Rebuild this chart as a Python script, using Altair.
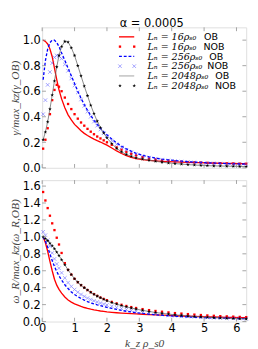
import altair as alt
import pandas as pd

# ---------------- data ----------------
kz = [0.03, 0.1, 0.17, 0.24, 0.31, 0.38, 0.45, 0.52,
      0.6, 0.7, 0.8, 0.9, 1.0, 1.1, 1.2, 1.3, 1.4, 1.5, 1.6, 1.7, 1.8, 1.9, 2.0,
      2.15, 2.3, 2.45, 2.6, 2.75, 2.9,
      3.1, 3.3, 3.5, 3.7, 3.9, 4.1, 4.3, 4.5, 4.7, 4.9, 5.1, 5.3, 5.5, 5.7, 5.9, 6.1, 6.3]

# growth rate (top panel)
gam_16_ob = [1.0, 0.99, 0.97, 0.93, 0.87, 0.78, 0.69, 0.61,
             0.54, 0.47, 0.415, 0.375, 0.34, 0.315, 0.29, 0.27, 0.253, 0.238, 0.225, 0.213, 0.202, 0.19, 0.178,
             0.155, 0.132, 0.112, 0.095, 0.082, 0.072,
             0.064, 0.058, 0.054, 0.051, 0.049, 0.047, 0.045, 0.043, 0.041, 0.04, 0.038, 0.037, 0.036, 0.035, 0.034, 0.033, 0.032]
gam_16_nob = [0.15, 0.22, 0.31, 0.42, 0.53, 0.61, 0.65, 0.635,
              0.6, 0.55, 0.5, 0.46, 0.42, 0.385, 0.355, 0.33, 0.305, 0.283, 0.263, 0.245, 0.23, 0.215, 0.2,
              0.18, 0.16, 0.142, 0.125, 0.11, 0.097,
              0.083, 0.073, 0.065, 0.059, 0.055, 0.051, 0.048, 0.045, 0.043, 0.041, 0.039, 0.037, 0.036, 0.035, 0.034, 0.033, 0.032]
gam_256_ob = [0.69, 0.84, 0.93, 0.98, 1.0, 1.0, 0.98, 0.95,
              0.9, 0.84, 0.78, 0.72, 0.66, 0.6, 0.545, 0.495, 0.45, 0.41, 0.372, 0.34, 0.31, 0.283, 0.258,
              0.225, 0.195, 0.17, 0.148, 0.13, 0.114,
              0.098, 0.086, 0.076, 0.068, 0.062, 0.057, 0.052, 0.048, 0.045, 0.042, 0.039, 0.037, 0.035, 0.033, 0.031, 0.03, 0.029]
gam_256_nob = [0.42, 0.53, 0.65, 0.75, 0.82, 0.865, 0.88, 0.875,
               0.855, 0.81, 0.76, 0.7, 0.645, 0.59, 0.535, 0.485, 0.44, 0.4, 0.362, 0.33, 0.3, 0.272, 0.247,
               0.213, 0.184, 0.16, 0.14, 0.122, 0.107,
               0.092, 0.08, 0.071, 0.064, 0.058, 0.053, 0.049, 0.045, 0.042, 0.039, 0.037, 0.035, 0.033, 0.031, 0.03, 0.029, 0.028]
gam_2048_ob = [0.22, 0.28, 0.36, 0.46, 0.57, 0.68, 0.79, 0.88,
               0.95, 0.99, 0.985, 0.94, 0.88, 0.8, 0.72, 0.64, 0.565, 0.49, 0.425, 0.365, 0.315, 0.272, 0.235,
               0.19, 0.152, 0.125, 0.105, 0.09, 0.078,
               0.068, 0.059, 0.051, 0.044, 0.038, 0.033, 0.029, 0.025, 0.022, 0.019, 0.017, 0.015, 0.014, 0.013, 0.012, 0.011, 0.01]
gam_2048_nob = [0.22, 0.28, 0.36, 0.46, 0.57, 0.68, 0.79, 0.88,
                0.95, 0.99, 0.985, 0.94, 0.88, 0.8, 0.72, 0.64, 0.565, 0.49, 0.425, 0.365, 0.315, 0.272, 0.235,
                0.19, 0.152, 0.125, 0.105, 0.09, 0.078,
                0.068, 0.059, 0.051, 0.044, 0.038, 0.033, 0.029, 0.025, 0.022, 0.019, 0.017, 0.015, 0.014, 0.013, 0.012, 0.011, 0.01]

# real frequency (bottom panel)
om_16_ob = [1.0, 0.93, 0.83, 0.71, 0.6, 0.5, 0.43, 0.38,
            0.335, 0.29, 0.255, 0.23, 0.21, 0.195, 0.18, 0.166, 0.155, 0.146, 0.138, 0.131, 0.125, 0.12, 0.115,
            0.109, 0.104, 0.1, 0.096, 0.093, 0.09,
            0.086, 0.082, 0.078, 0.075, 0.072, 0.069, 0.066, 0.063, 0.061, 0.058, 0.056, 0.054, 0.052, 0.05, 0.049, 0.047, 0.046]
om_16_nob = [1.53, 1.43, 1.34, 1.25, 1.16, 1.08, 0.99, 0.91,
             0.81, 0.69, 0.61, 0.555, 0.505, 0.465, 0.43, 0.4, 0.372, 0.347, 0.324, 0.303, 0.284, 0.267, 0.252,
             0.232, 0.214, 0.198, 0.184, 0.171, 0.16,
             0.147, 0.135, 0.125, 0.116, 0.108, 0.1, 0.094, 0.088, 0.082, 0.077, 0.072, 0.068, 0.064, 0.061, 0.058, 0.055, 0.052]
om_256_ob = [1.0, 0.95, 0.88, 0.8, 0.72, 0.65, 0.59, 0.54,
             0.49, 0.435, 0.39, 0.35, 0.32, 0.295, 0.272, 0.253, 0.236, 0.221, 0.208, 0.197, 0.187, 0.177, 0.168,
             0.155, 0.143, 0.132, 0.122, 0.113, 0.105,
             0.096, 0.088, 0.081, 0.074, 0.068, 0.063, 0.059, 0.055, 0.051, 0.048, 0.045, 0.043, 0.041, 0.039, 0.037, 0.035, 0.034]
om_256_nob = [1.06, 1.02, 0.96, 0.89, 0.81, 0.74, 0.68, 0.63,
              0.575, 0.515, 0.46, 0.415, 0.378, 0.347, 0.32, 0.297, 0.277, 0.26, 0.245, 0.231, 0.218, 0.206, 0.195,
              0.18, 0.166, 0.153, 0.141, 0.131, 0.121,
              0.109, 0.099, 0.09, 0.082, 0.075, 0.069, 0.064, 0.059, 0.055, 0.051, 0.048, 0.045, 0.042, 0.04, 0.038, 0.036, 0.034]
om_2048_ob = [1.0, 0.98, 0.955, 0.925, 0.895, 0.86, 0.82, 0.78,
              0.73, 0.67, 0.61, 0.555, 0.505, 0.465, 0.43, 0.4, 0.372, 0.346, 0.322, 0.3, 0.281, 0.263, 0.246,
              0.225, 0.206, 0.189, 0.174, 0.16, 0.147,
              0.132, 0.119, 0.107, 0.097, 0.088, 0.08, 0.072, 0.066, 0.06, 0.055, 0.05, 0.046, 0.042, 0.039, 0.036, 0.033, 0.031]
om_2048_nob = [1.0, 0.98, 0.955, 0.925, 0.895, 0.86, 0.82, 0.78,
               0.73, 0.67, 0.61, 0.555, 0.505, 0.465, 0.43, 0.4, 0.372, 0.346, 0.322, 0.3, 0.281, 0.263, 0.246,
               0.225, 0.206, 0.189, 0.174, 0.16, 0.147,
               0.132, 0.119, 0.107, 0.097, 0.088, 0.08, 0.072, 0.066, 0.06, 0.055, 0.05, 0.046, 0.042, 0.039, 0.036, 0.033, 0.031]

x_ticks = [0, 1, 2, 3, 4, 5, 6]
y_ticks_top = [0.0, 0.2, 0.4, 0.6, 0.8, 1.0]
y_ticks_bot = [0.0, 0.2, 0.4, 0.6, 0.8, 1.0, 1.2, 1.4, 1.6]

legend_math = ["Lₙ = 16ρₛ₀", "Lₙ = 16ρₛ₀", "Lₙ = 256ρₛ₀", "Lₙ = 256ρₛ₀", "Lₙ = 2048ρₛ₀", "Lₙ = 2048ρₛ₀"]
legend_tag = ["OB", "NOB", "OB", "NOB", "OB", "NOB"]

top_df = pd.DataFrame({"kz": kz, "r_ob": gam_16_ob, "r_nob": gam_16_nob,
                       "b_ob": gam_256_ob, "b_nob": gam_256_nob,
                       "k_ob": gam_2048_ob, "k_nob": gam_2048_nob})
bot_df = pd.DataFrame({"kz": kz, "r_ob": om_16_ob, "r_nob": om_16_nob,
                       "b_ob": om_256_ob, "b_nob": om_256_nob,
                       "k_ob": om_2048_ob, "k_nob": om_2048_nob})

# ---------------- styling ----------------
W = 215
H_TOP = 148
H_BOT = 149
FRAME = "#8a8a8a"
STAR = ("M0,-1L0.225,-0.309L0.951,-0.309L0.363,0.118L0.588,0.809L0,0.382"
        "L-0.588,0.809L-0.363,0.118L-0.951,-0.309L-0.225,-0.309Z")
XMARK = "M-1,-1L1,1M-1,1L1,-1"
XSC = alt.Scale(domain=[0, 6.3], nice=False, zero=False)


def panel(df, ydom, yticks, ytitle, xaxis, height, with_legend=False):
    ysc = alt.Scale(domain=ydom, nice=False, zero=False)
    yax = alt.Axis(values=yticks, format=".1f", ticks=False, domain=False, grid=False,
                   labelFont="DejaVu Sans", labelFontSize=12, labelColor="black",
                   labelPadding=2, labelOverlap=False,
                   title=ytitle, titleFont="Liberation Serif", titleFontStyle="italic",
                   titleFontWeight="normal", titleFontSize=12, titleColor="#444444",
                   titlePadding=1)
    X = lambda f: alt.X(f, scale=XSC, axis=xaxis)
    Y = lambda f: alt.Y(f, scale=ysc, axis=yax)
    base = alt.Chart(df)
    layers = [
        base.mark_line(color="#ff0000", strokeWidth=1.4).encode(x=X("kz:Q"), y=Y("r_ob:Q")),
        base.mark_square(color="#ff0000", size=6, opacity=1).encode(x=X("kz:Q"), y=Y("r_nob:Q")),
        base.mark_line(color="#0000ff", strokeWidth=1.4, strokeDash=[3, 2]).encode(x=X("kz:Q"), y=Y("b_ob:Q")),
        base.mark_point(shape=XMARK, color="#3a3aff", size=14, strokeWidth=0.8, opacity=0.6,
                        filled=False).encode(x=X("kz:Q"), y=Y("b_nob:Q")),
        base.mark_line(color="#666666", strokeWidth=0.8).encode(x=X("kz:Q"), y=Y("k_ob:Q")),
        base.mark_point(shape=STAR, color="black", filled=True, size=16, opacity=1,
                        strokeWidth=0).encode(x=X("kz:Q"), y=Y("k_nob:Q")),
    ]
    # inward ticks (matplotlib classic style)
    xt = alt.Chart(pd.DataFrame({"t": x_ticks}))
    yt = alt.Chart(pd.DataFrame({"t": yticks}))
    tk = dict(color=FRAME, strokeWidth=0.8)
    layers += [
        xt.mark_rule(**tk).encode(x=X("t:Q"), y=alt.value(height), y2=alt.value(height - 4)),
        xt.mark_rule(**tk).encode(x=X("t:Q"), y=alt.value(0), y2=alt.value(4)),
        yt.mark_rule(**tk).encode(y=Y("t:Q"), x=alt.value(0), x2=alt.value(4)),
        yt.mark_rule(**tk).encode(y=Y("t:Q"), x=alt.value(W), x2=alt.value(W - 4)),
    ]
    if with_legend:
        one = alt.Chart(pd.DataFrame({"a": [0]}))
        rows = [10, 20.3, 30.6, 40.9, 51.2, 61.5]
        tag_x = [170.5, 170, 176, 174, 182.5, 182]
        for i, yy in enumerate(rows):
            if i == 0:
                layers.append(one.mark_rule(color="#ff0000", strokeWidth=1.4).encode(
                    x=alt.value(81), x2=alt.value(97), y=alt.value(yy)))
            elif i == 2:
                layers.append(one.mark_rule(color="#0000ff", strokeWidth=1.4, strokeDash=[3, 2]).encode(
                    x=alt.value(81), x2=alt.value(97), y=alt.value(yy)))
            elif i == 4:
                layers.append(one.mark_rule(color="#888888", strokeWidth=0.8).encode(
                    x=alt.value(81), x2=alt.value(97), y=alt.value(yy)))
            else:
                for px in (82, 97):
                    if i == 1:
                        m = one.mark_square(color="#ff0000", size=6, opacity=1)
                    elif i == 3:
                        m = one.mark_point(shape=XMARK, color="#3a3aff", size=14, strokeWidth=0.8,
                                           opacity=0.6, filled=False)
                    else:
                        m = one.mark_point(shape=STAR, color="black", filled=True, size=16,
                                           opacity=1, strokeWidth=0)
                    layers.append(m.encode(x=alt.value(px), y=alt.value(yy)))
            layers.append(one.mark_text(align="left", baseline="middle", font="DejaVu Serif",
                                        fontStyle="italic", fontSize=10, color="black").encode(
                x=alt.value(111), y=alt.value(yy + 0.5), text=alt.value(legend_math[i])))
            layers.append(one.mark_text(align="left", baseline="middle", font="DejaVu Sans",
                                        fontSize=10, color="black").encode(
                x=alt.value(tag_x[i]), y=alt.value(yy + 0.5), text=alt.value(legend_tag[i])))
    return alt.layer(*layers).properties(width=W, height=height)


top = panel(top_df, [0, 1.1], y_ticks_top, "γ/max_kz(γ_OB)", None, H_TOP, with_legend=True).properties(
    title=alt.TitleParams("α = 0.0005", font="DejaVu Sans", fontSize=12, fontWeight="normal",
                          color="black", dx=8, offset=-3, anchor="middle"))

bot_xaxis = alt.Axis(values=x_ticks, format="d", ticks=False, domain=False, grid=False,
                     labelFont="DejaVu Sans", labelFontSize=12, labelColor="black", labelPadding=2,
                     labelFlush=False,
                     title="k_z ρ_s0", titleFont="Liberation Serif", titleFontStyle="italic",
                     titleFontWeight="normal", titleFontSize=12, titleColor="#444444", titlePadding=4)
bot = panel(bot_df, [0, 1.67], y_ticks_bot, "ω_R/max_kz(ω_R,OB)", bot_xaxis, H_BOT)

chart = alt.vconcat(top, bot, spacing=5).configure_view(stroke=FRAME, strokeWidth=1).configure(
    padding=0, background="white")

chart.save("out.html", embed_options={"renderer": "svg", "actions": False})
